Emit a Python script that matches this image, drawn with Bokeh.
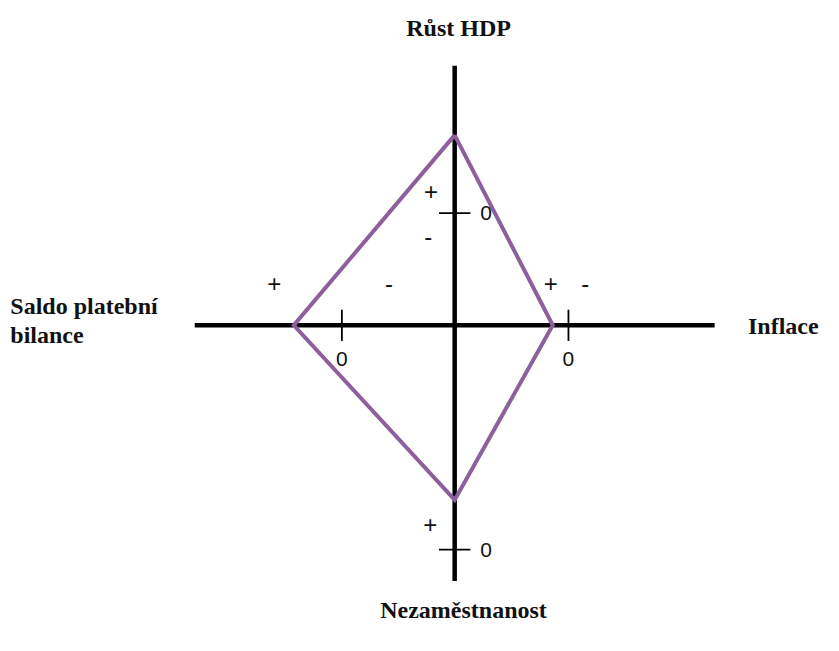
from bokeh.plotting import figure
from bokeh.models import Range1d
from bokeh.core.properties import value
from bokeh.embed import file_html
from bokeh.resources import INLINE

# --- data -------------------------------------------------------------
axis_names = ["Růst HDP", "Inflace", "Nezaměstnanost", "Saldo platební bilance"]
# direction of each axis (unit vector in plot space)
axis_dir_x = [0, 1, 0, -1]
axis_dir_y = [1, 0, -1, 0]
# position of the country's value along each axis (diamond vertices)
vertex_values = [195, 100, 179, 164]
# position of the zero mark along each axis
zero_values = [115, 116, 230, 115]
axis_extent = 265
zero_labels = ["0", "0", "0", "0"]

PURPLE = "#8d5f9d"

p = figure(width=823, height=635, output_backend="svg", toolbar_location=None,
           x_range=Range1d(-463, 376), y_range=Range1d(-318, 333),
           min_border=0, min_border_left=0, min_border_right=0,
           min_border_top=0, min_border_bottom=0)
p.axis.visible = False
p.grid.visible = False
p.outline_line_color = None
p.background_fill_color = "white"
p.border_fill_color = "white"

# main axes
p.segment(x0=[-axis_extent, 0], y0=[0, -axis_extent + 3], x1=[axis_extent, 0], y1=[0, axis_extent + 1],
          line_color="black", line_width=4.5)

# zero ticks
tick_half = 16
tx0, ty0, tx1, ty1 = [], [], [], []
for dx, dy, z in zip(axis_dir_x, axis_dir_y, zero_values):
    cx, cy = dx * z, dy * z
    if dx == 0:
        tx0.append(cx - tick_half); tx1.append(cx + tick_half); ty0.append(cy); ty1.append(cy)
    else:
        tx0.append(cx); tx1.append(cx); ty0.append(cy - tick_half); ty1.append(cy + tick_half)
p.segment(x0=tx0, y0=ty0, x1=tx1, y1=ty1, line_color="black", line_width=1.8)

# diamond
vx = [dx * v for dx, v in zip(axis_dir_x, vertex_values)]
vy = [dy * v for dy, v in zip(axis_dir_y, vertex_values)]
p.line(x=vx + [vx[0]], y=vy + [vy[0]], line_color=PURPLE, line_width=4,
       line_join="miter")

# zero labels
zx, zy = [], []
for dx, dy, z in zip(axis_dir_x, axis_dir_y, zero_values):
    if dx == 0:
        zx.append(32); zy.append(dy * z)
    else:
        zx.append(dx * z); zy.append(-35)
small_font = dict(text_font=value("Liberation Sans"), text_font_size="21px",
                  text_color="#111111", text_align="center", text_baseline="middle")
p.text(x=zx, y=zy, text=zero_labels, **small_font)

# sign labels (+ / -) around the zero marks
g, i, u, b = zero_values
sign_x = [-24, -27, i - 18, i + 17, -b - 69, -b + 48, -25]
sign_y = [g + 22, g - 24, 43, 43, 43, 43, -u + 26]
sign_t = ["+", "-", "+", "-", "+", "-", "+"]
sign_font = dict(small_font, text_font_size="24px")
p.text(x=sign_x, y=sign_y, text=sign_t, **sign_font)

# axis titles
title_font = dict(text_font=value("Liberation Serif"), text_font_style="bold",
                  text_font_size="24px", text_color="#111111", text_baseline="middle")
p.text(x=[4], y=[305], text=[axis_names[0]], text_align="center", **title_font)
p.text(x=[299], y=[-1], text=[axis_names[1]], text_align="left", **title_font)
p.text(x=[9], y=[-292], text=[axis_names[2]], text_align="center", **title_font)
p.text(x=[-453, -453], y=[20, -10], text=["Saldo platební", "bilance"], text_align="left", **title_font)

open("out.html", "w").write(file_html(p, INLINE))
